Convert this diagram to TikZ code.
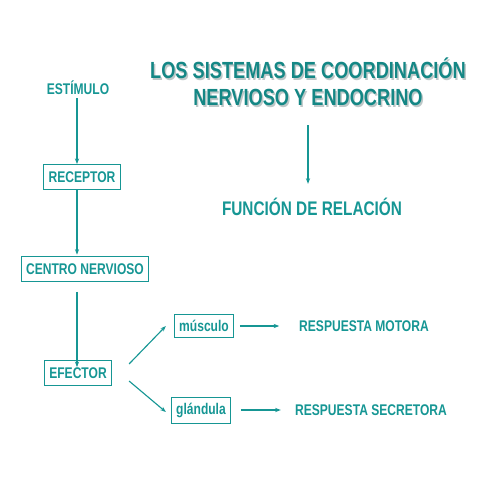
\documentclass[tikz,border=0pt]{standalone}
\usepackage{fontspec}
\setmainfont{Liberation Sans}[FakeStretch=0.78]
\usetikzlibrary{arrows.meta}
\definecolor{verde}{RGB}{22,150,148}
\definecolor{sombra}{RGB}{190,200,200}
\tikzset{
  texto/.style={text=verde, font=\bfseries\fontsize{11}{13}\selectfont, inner sep=2pt},
  caja/.style={texto, draw=verde, line width=0.6pt, inner xsep=3.5pt, inner ysep=5pt},
  flecha/.style={draw=verde, line width=0.8pt, -{Stealth[length=4pt,width=3pt]}}
}
\begin{document}
\begin{tikzpicture}[x=0.025cm, y=-0.025cm]
            \useasboundingbox (0,0) rectangle (480,480);

            % titulo
            \node[text=sombra, font=\bfseries\fontsize{16.6}{19}\selectfont, align=center] (sombra) at (309.5,83.5) {LOS SISTEMAS DE COORDINACIÓN\\NERVIOSO Y ENDOCRINO};
            \node[text=verde!90!black, font=\bfseries\fontsize{16.6}{19}\selectfont, align=center] (titulo) at (308,82) {LOS SISTEMAS DE COORDINACIÓN\\NERVIOSO Y ENDOCRINO};
            \node[texto, font=\bfseries\fontsize{14}{16}\selectfont] (funcion) at (312,207) {FUNCIÓN DE RELACIÓN};
            \coordinate (arriba) at (308,125);

            % columna izquierda
            \node[texto] (estimulo) at (78,88) {ESTÍMULO};
            \node[caja] (receptor) at (82,177) {RECEPTOR};
            \node[caja] (centro) at (85,269) {CENTRO NERVIOSO};
            \node[caja] (efector) at (78,373) {EFECTOR};

            \node[caja, inner ysep=4pt] (musculo) at (204,326) {músculo};
            \node[caja, inner ysep=4pt] (glandula) at (201,410) {glándula};

            \node[texto] (motora) at (364,326) {RESPUESTA MOTORA};
            \node[texto] (secretora) at (371,410) {RESPUESTA SECRETORA};

            % flechas
            \draw[flecha] (arriba) -- ([yshift=8pt]funcion.north -| arriba);
            \draw[flecha] (estimulo.south -| 77,0) -- (receptor.north -| 77,0);
            \draw[flecha] (receptor.south -| 77,0) -- ([yshift=1]centro.north -| 77,0);
            \draw[flecha, shorten <=7] (centro.south -| 77,0) -- ([yshift=-5]efector.north -| 77,0);
            \draw[flecha] ([shift={(17,-9)}]efector.east) -- ([shift={(-8,0)}]musculo.west);
            \draw[flecha] ([shift={(17,8)}]efector.east) -- ([shift={(-5,2)}]glandula.west);
            \draw[flecha, shorten <=4] (musculo.east) -- ([xshift=-12]motora.west);
            \draw[flecha, shorten <=7] (glandula.east) -- ([xshift=-8]secretora.west);
      \end{tikzpicture}
\end{document}
